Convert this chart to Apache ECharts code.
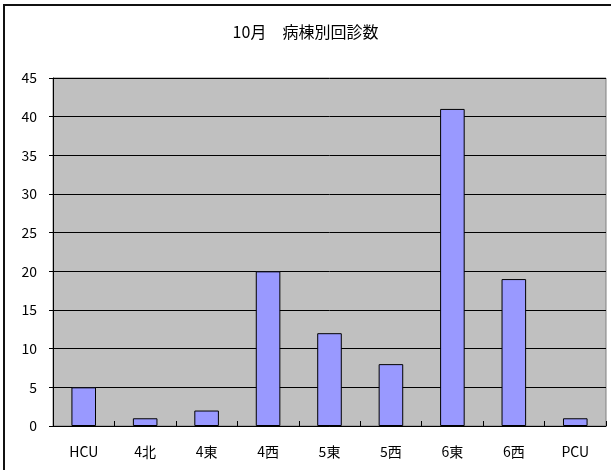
<!DOCTYPE html>
<html>
<head>
<meta charset="utf-8">
<script src="https://cdn.jsdelivr.net/npm/echarts@6/dist/echarts.min.js"></script>
<style>
html,body{margin:0;padding:0;background:#fff;}
#c{width:611px;height:470px;}
</style>
</head>
<body>
<div id="c"></div>
<script>
const title = '10月　病棟別回診数';
const categories = ['HCU', '4北', '4東', '4西', '5東', '5西', '6東', '6西', 'PCU'];
const visits = [5, 1, 2, 20, 12, 8, 41, 19, 1];
const yTicks = [0, 5, 10, 15, 20, 25, 30, 35, 40, 45];

const FONT = '"Noto Sans CJK JP", "Liberation Sans", sans-serif';
const chart = echarts.init(document.getElementById('c'), null, {renderer: 'canvas'});
chart.setOption({
  animation: false,
  backgroundColor: '#ffffff',
  title: {
    text: title,
    left: 'center',
    top: 19,
    textStyle: {fontFamily: FONT, fontSize: 16, fontWeight: 'normal', color: '#000'}
  },
  graphic: [{
    type: 'rect',
    shape: {x: 4, y: 5, width: 640, height: 500},
    style: {fill: 'none', stroke: '#111', lineWidth: 2},
    silent: true,
    z: 100
  }],
  grid: {
    left: 53, right: 5, top: 78, bottom: 44,
    show: true,
    backgroundColor: '#c0c0c0',
    borderColor: '#808080',
    borderWidth: 1
  },
  xAxis: {
    type: 'category',
    data: categories,
    axisLine: {lineStyle: {color: '#000', width: 1}},
    axisTick: {show: true, alignWithLabel: false, length: 5, inside: true, lineStyle: {color: '#000'}},
    axisLabel: {fontFamily: FONT, fontSize: 14, color: '#000', margin: 19}
  },
  yAxis: {
    type: 'value',
    min: yTicks[0],
    max: yTicks[yTicks.length - 1],
    interval: 5,
    axisLine: {show: true, lineStyle: {color: '#000', width: 1}},
    axisTick: {show: true, length: 4, lineStyle: {color: '#000'}},
    axisLabel: {fontFamily: FONT, fontSize: 14, color: '#000', margin: 16},
    splitLine: {show: true, lineStyle: {color: '#000', width: 1}}
  },
  series: [{
    type: 'bar',
    data: visits,
    barWidth: '40%',
    itemStyle: {color: '#9999ff', borderColor: '#000', borderWidth: 1}
  }]
});
</script>
</body>
</html>
